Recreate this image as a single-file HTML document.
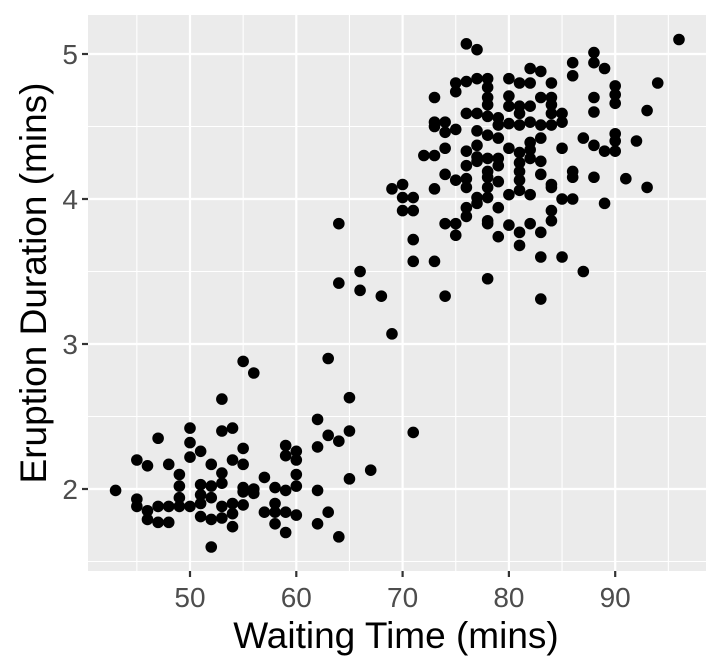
<!DOCTYPE html>
<html><head><meta charset="utf-8"><style>
body{margin:0;background:#fff;}
svg{display:block;font-family:"Liberation Sans",sans-serif;}
</style></head><body>
<svg id="chart" width="720" height="672" xmlns="http://www.w3.org/2000/svg"></svg>
<script>
const waiting=[55,56,63,53,65,62,50,53,54,65,71,47,63,64,50,62,51,55,59,60,59,60,45,46,48,50,52,54,55,67,49,53,60,57,65,43,49,51,52,53,55,55,56,56,58,59,60,62,45,45,46,46,47,47,48,48,49,49,50,51,51,51,52,52,53,53,54,54,54,55,57,58,58,58,59,59,60,62,63,64,52,
76,77,96,88,88,89,86,86,82,83,75,76,77,78,75,78,80,81,82,84,90,90,90,94,88,88,93,73,78,78,80,80,81,81,82,83,84,84,76,77,78,79,84,85,85,73,73,74,74,75,77,78,79,79,80,81,82,83,83,84,90,90,92,87,88,89,90,85,74,76,77,80,81,82,82,72,73,76,77,77,78,78,79,79,81,81,82,83,83,74,75,76,76,78,78,79,81,81,80,82,84,84,86,86,88,91,93,69,70,70,71,70,71,73,76,77,77,78,79,76,85,86,89,84,84,64,74,75,75,78,78,80,81,81,82,83,79,71,71,73,83,85,87,78,74,83,66,66,68,64,69];
const eruptions=[2.88,2.80,2.90,2.62,2.63,2.48,2.42,2.40,2.42,2.40,2.39,2.35,2.37,2.33,2.32,2.29,2.26,2.28,2.30,2.26,2.23,2.20,2.20,2.16,2.17,2.22,2.17,2.20,2.17,2.13,2.10,2.11,2.10,2.08,2.07,1.99,2.02,2.03,2.02,2.04,2.01,1.98,2.00,1.97,2.01,1.99,2.02,1.99,1.93,1.88,1.85,1.79,1.88,1.77,1.88,1.77,1.94,1.88,1.88,1.96,1.90,1.81,1.94,1.79,1.88,1.80,1.90,1.83,1.74,1.89,1.84,1.90,1.84,1.76,1.84,1.70,1.82,1.76,1.84,1.67,1.60,
5.07,5.03,5.10,5.01,4.94,4.90,4.94,4.85,4.90,4.88,4.80,4.81,4.83,4.83,4.74,4.77,4.83,4.80,4.80,4.80,4.78,4.72,4.66,4.80,4.70,4.60,4.61,4.70,4.70,4.65,4.71,4.64,4.64,4.59,4.64,4.70,4.70,4.65,4.59,4.59,4.57,4.56,4.59,4.59,4.53,4.53,4.50,4.53,4.46,4.48,4.47,4.44,4.51,4.42,4.52,4.51,4.53,4.51,4.42,4.51,4.45,4.40,4.40,4.42,4.37,4.33,4.33,4.35,4.35,4.33,4.37,4.35,4.32,4.39,4.34,4.30,4.30,4.23,4.29,4.26,4.28,4.19,4.28,4.23,4.25,4.19,4.28,4.26,4.17,4.17,4.13,4.14,4.08,4.15,4.08,4.12,4.13,4.06,4.03,4.03,4.10,4.08,4.19,4.15,4.15,4.14,4.08,4.07,4.10,4.01,4.01,3.92,3.92,4.07,3.94,4.01,3.97,4.01,3.94,3.88,4.00,4.00,3.97,3.92,3.85,3.83,3.83,3.83,3.75,3.85,3.83,3.82,3.77,3.68,3.83,3.77,3.74,3.72,3.57,3.57,3.60,3.60,3.50,3.45,3.33,3.31,3.50,3.37,3.33,3.42,3.07];
const xTicks=[50,60,70,80,90];
const yTicks=[2,3,4,5];
const xMinor=[45,55,65,75,85,95];
const yMinor=[1.5,2.5,3.5,4.5];

const NS="http://www.w3.org/2000/svg";
const svg=document.getElementById('chart');
const L=88,R=706,T=15,B=571;
const xs=v=>190+(v-50)*10.63;
const ys=v=>489-(v-2)*145;
function mk(t,a,p){const e=document.createElementNS(NS,t);for(const k in a)e.setAttribute(k,a[k]);(p||svg).appendChild(e);return e;}

const panel=mk('rect',{x:L,y:T,width:R-L,height:B-T,fill:'#EBEBEB'});


xMinor.forEach(v=>{const l=mk('line',{x1:xs(v),x2:xs(v),y1:T,y2:B,stroke:'#fff','stroke-width':1.1});

});
yMinor.forEach(v=>{const l=mk('line',{x1:L,x2:R,y1:ys(v),y2:ys(v),stroke:'#fff','stroke-width':1.1});

});
xTicks.forEach(v=>{const l=mk('line',{x1:xs(v),x2:xs(v),y1:T,y2:B,stroke:'#fff','stroke-width':2.2});


const t=mk('line',{x1:xs(v),x2:xs(v),y1:B,y2:B+6,stroke:'#333','stroke-width':2.2});


const tx=mk('text',{x:xs(v),y:607,'text-anchor':'middle','font-size':28,fill:'#4D4D4D'});tx.textContent=v;

});
yTicks.forEach(v=>{const l=mk('line',{x1:L,x2:R,y1:ys(v),y2:ys(v),stroke:'#fff','stroke-width':2.2});


const t=mk('line',{x1:L-6,x2:L,y1:ys(v),y2:ys(v),stroke:'#333','stroke-width':2.2});


const tx=mk('text',{x:L-10,y:ys(v)+10,'text-anchor':'end','font-size':28,fill:'#4D4D4D'});tx.textContent=v;

});
waiting.forEach((w,i)=>{const c=mk('circle',{cx:xs(w),cy:ys(eruptions[i]),r:5.8,fill:'#000'});

});
const xt=mk('text',{x:396,y:648,'text-anchor':'middle','font-size':37,fill:'#000'});xt.textContent='Waiting Time (mins)';


const yt=mk('text',{x:0,y:0,'text-anchor':'middle','font-size':37,fill:'#000',transform:'translate(46,283) rotate(-90)'});yt.textContent='Eruption Duration (mins)';


</script>
</body></html>
